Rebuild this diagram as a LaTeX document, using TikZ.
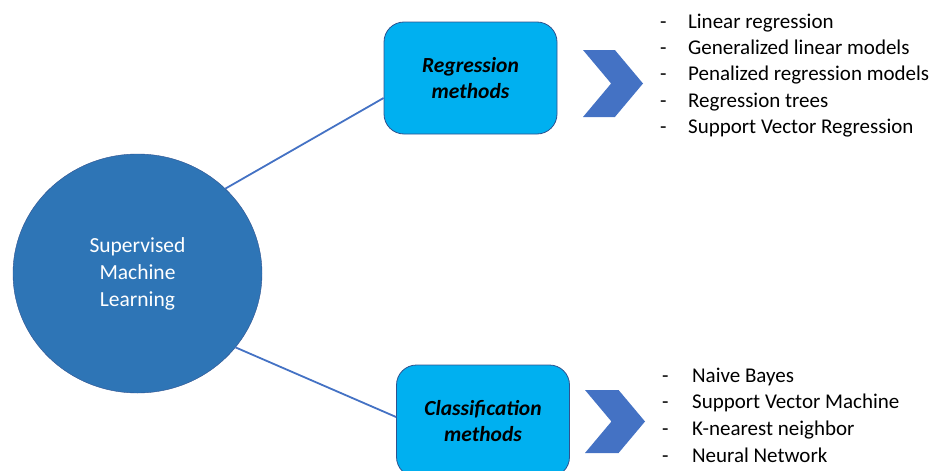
\documentclass[tikz,border=0pt]{standalone}
\usepackage{fontspec}
\setmainfont{Carlito}
\usetikzlibrary{positioning, shapes.geometric, shapes.symbols}
\definecolor{circblue}{HTML}{2E75B6}
\definecolor{edgeblue}{HTML}{2F528F}
\definecolor{boxcyan}{HTML}{00B0F0}
\definecolor{linkblue}{HTML}{4472C4}

\begin{document}
\begin{tikzpicture}[
    x=1pt, y=-1pt,
    topic/.style={draw=edgeblue, fill=circblue, ellipse, text=white, align=center,
      minimum width=249pt, minimum height=239pt, font=\fontsize{21.5}{27}\selectfont},
    method/.style={draw=edgeblue, line width=0.8pt, fill=boxcyan, rounded corners=20pt,
      minimum width=173pt, minimum height=112pt, align=center,
      font=\fontsize{21.5}{25.5}\selectfont\bfseries\itshape},
    arrowhead/.style={signal, signal to=east, signal from=west, signal pointer angle=100,
      fill=linkblue, minimum width=60pt, minimum height=67pt, inner sep=0pt, outer sep=0pt},
    itemlist/.style={anchor=west, inner sep=0pt, font=\fontsize{21}{26.3}\selectfont},
    link/.style={draw=linkblue, line width=1.8pt}
    ]

    \useasboundingbox (0,0) rectangle (938,471);

    % Nodes
    \node[topic] (sml) at (137.5,273.5) {Supervised\\Machine\\Learning};
    \node[method] (reg) at (470.5,78) {Regression\\methods};
    \node[method] (cls) at (483,421) {Classification\\methods};

    \node[arrowhead] (regarrow) at (613,83.5) {};
    \node[arrowhead, minimum height=63pt] (clsarrow) at (615,421.5) {};

    \node[itemlist] (reglist) at (660,75.5) {\begin{tabular}{@{}l@{\hspace{21.5pt}}l@{}}
      - & Linear regression\\
      - & Generalized linear models\\
      - & Penalized regression models\\
      - & Regression trees\\
      - & Support Vector Regression
    \end{tabular}};
    \node[itemlist, font=\fontsize{21}{26.7}\selectfont] (clslist) at (662,417) {\begin{tabular}{@{}l@{\hspace{23.5pt}}l@{}}
      - & Naive Bayes\\
      - & Support Vector Machine\\
      - & K-nearest neighbor\\
      - & Neural Network
    \end{tabular}};

    % Edges
    \draw[link] (sml.44) -- ([yshift=-20pt]reg.west);
    \draw[link] (sml.-37) -- ([yshift=4pt]cls.west);

\end{tikzpicture}
\end{document}
